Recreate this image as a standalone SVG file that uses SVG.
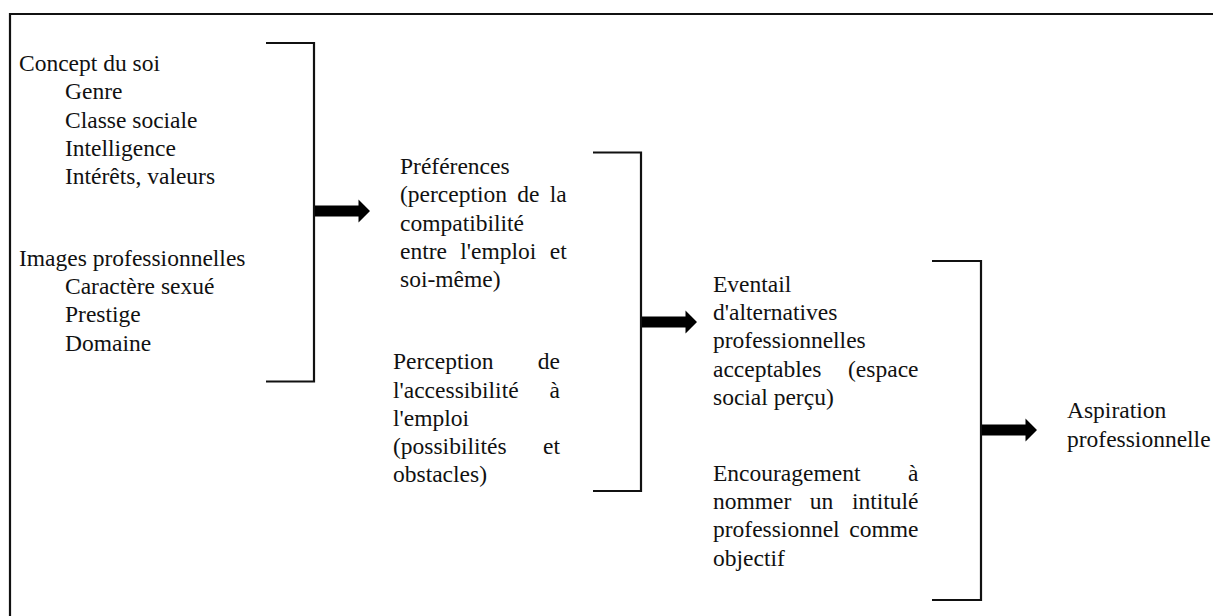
<svg xmlns="http://www.w3.org/2000/svg" width="1213" height="616" viewBox="0 0 1213 616">
<style>
text{font-family:'Liberation Serif','Times New Roman',serif;font-size:23.5px;fill:#111}
.ln{fill:none;stroke:#111;stroke-width:2.2}
.ar{fill:#000;stroke:none}
.e{text-anchor:end}
</style>
<rect width="1213" height="616" fill="#fff"/>
<path class="ln" d="M10,616 V14 H1213"/>
<g id="connectors">
<path class="ln" d="M266,43 H314 V381.5 H266"/>
<path class="ln" d="M593,152.5 H641 V491 H593"/>
<path class="ln" d="M932,261 H981 V600 H932"/>
<polygon class="ar" points="315,205.5 358.5,205.5 358.5,199.5 370,211 358.5,222.5 358.5,216.5 315,216.5"/>
<polygon class="ar" points="642,316.5 685.5,316.5 685.5,310.5 697,322 685.5,333.5 685.5,327.5 642,327.5"/>
<polygon class="ar" points="982,424.5 1025.5,424.5 1025.5,418.5 1037,430 1025.5,441.5 1025.5,435.5 982,435.5"/>
</g>
<g id="concept">
<text x="19" y="70.5">Concept du soi</text>
<text x="65" y="99">Genre</text>
<text x="65" y="127.5">Classe sociale</text>
<text x="65" y="155.8">Intelligence</text>
<text x="65" y="184">Intérêts, valeurs</text>
</g>
<g id="images">
<text x="19" y="265.5">Images professionnelles</text>
<text x="65" y="294">Caractère sexué</text>
<text x="65" y="322.3">Prestige</text>
<text x="65" y="350.6">Domaine</text>
</g>
<g id="preferences">
<text x="400" y="173.5">Préférences</text>
<text y="202"><tspan x="400">(perception</tspan><tspan x="517.3">de</tspan><tspan x="566.7" class="e">la</tspan></text>
<text x="400" y="230.5">compatibilité</text>
<text y="258.8"><tspan x="400">entre</tspan><tspan x="460.3">l'emploi</tspan><tspan x="566.7" class="e">et</tspan></text>
<text x="400" y="287">soi-même)</text>
</g>
<g id="perception">
<text y="369"><tspan x="393">Perception</tspan><tspan x="560" class="e">de</tspan></text>
<text y="397.5"><tspan x="393">l'accessibilité</tspan><tspan x="560" class="e">à</tspan></text>
<text x="393" y="425.8">l'emploi</text>
<text y="454"><tspan x="393">(possibilités</tspan><tspan x="560" class="e">et</tspan></text>
<text x="393" y="482">obstacles)</text>
</g>
<g id="eventail">
<text x="713" y="291.7">Eventail</text>
<text x="713" y="320">d'alternatives</text>
<text x="713" y="348.3">professionnelles</text>
<text y="376.6"><tspan x="713">acceptables</tspan><tspan x="918.5" class="e">(espace</tspan></text>
<text x="713" y="404.5">social perçu)</text>
</g>
<g id="encouragement">
<text y="480.7"><tspan x="713">Encouragement</tspan><tspan x="918.5" class="e">à</tspan></text>
<text y="509"><tspan x="713">nommer</tspan><tspan x="809.8">un</tspan><tspan x="918.5" class="e">intitulé</tspan></text>
<text y="537.3"><tspan x="713">professionnel</tspan><tspan x="918.5" class="e">comme</tspan></text>
<text x="713" y="565.5">objectif</text>
</g>
<g id="aspiration">
<text x="1067" y="418.3">Aspiration</text>
<text x="1067" y="446.7">professionnelle</text>
</g>
</svg>
